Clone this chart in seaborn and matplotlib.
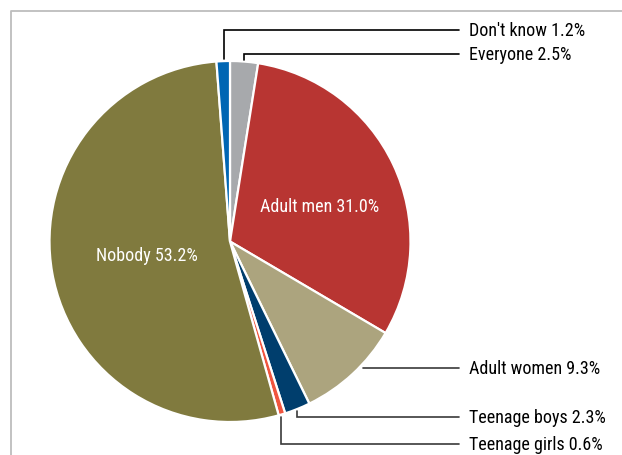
import numpy as np
import matplotlib
matplotlib.use("Agg")
import matplotlib.pyplot as plt
from matplotlib import font_manager
import seaborn as sns

# Survey answers, in clockwise order starting at twelve o'clock
categories = ["Everyone", "Adult men", "Adult women", "Teenage boys",
              "Teenage girls", "Nobody", "Don't know"]
shares = [2.5, 31.0, 9.3, 2.3, 0.6, 53.2, 1.2]
colors = ["#a7a9ac", "#b83532", "#aca47e", "#003e6d", "#f0553f", "#807a3e", "#0066b3"]

sns.set_theme(style="white")
names = {f.name for f in font_manager.fontManager.ttflist}
narrow = [n for n in ("Liberation Sans Narrow", "Roboto Condensed", "Arial Narrow") if n in names]
plt.rcParams["font.family"] = narrow + ["Liberation Sans", "DejaVu Sans"]
fs = 13 if narrow else 11.3

W, H = 622, 456
fig = plt.figure(figsize=(W / 100, H / 100), dpi=100)
ax = fig.add_axes([0, 0, 1, 1])

cx, cy, r = 230, H - 242.5, 180.5
wedges, _ = ax.pie(shares, colors=colors, startangle=90, counterclock=False,
                   center=(cx, cy), radius=r, frame=True,
                   wedgeprops=dict(edgecolor="white", linewidth=1.6))
ax.set_xlim(0, W)
ax.set_ylim(0, H)
ax.set_aspect("equal")
ax.axis("off")

# panel border (top and left edges visible)
ax.plot([11, 11, W], [0, H - 12, H - 12], color="#bdbdbd", lw=1.3, clip_on=False)

def label(v, name):
    return f"{name} {v:.1f}%"

def mid_angle(i):
    start = 90 - sum(shares[:i]) * 3.6
    return np.deg2rad(start - shares[i] * 1.8)

text_x = 469
line_end = 459

# labels with leader lines: (index, label y in pixels)
outside = {0: 55, 6: 31, 3: 418, 4: 445}
for i, ly in outside.items():
    a = mid_angle(i)
    px = cx + r * np.cos(a)
    py = cy + r * np.sin(a)
    yl = H - ly
    col = "black" if i in (0, 6) else "#3a3a3a"
    off = 2 if yl > py else -2
    ax.plot([px, px, line_end], [py + off, yl, yl], color=col, lw=1.2,
            solid_joinstyle="miter")
    ax.text(text_x, yl, label(shares[i], categories[i]), ha="left", va="center",
            fontsize=fs, color="black")

# Adult women: straight horizontal leader
i = 2
yl = H - 369
dx = np.sqrt(r ** 2 - (yl - cy) ** 2)
ax.plot([cx + dx + 4, line_end], [yl, yl], color="#3a3a3a", lw=1.2)
ax.text(text_x, yl, label(shares[i], categories[i]), ha="left", va="center",
        fontsize=fs, color="black")

# labels inside the two largest slices
ax.text(320, H - 207, label(shares[1], categories[1]), ha="center", va="center",
        fontsize=fs, color="white")
ax.text(147, H - 256, label(shares[5], categories[5]), ha="center", va="center",
        fontsize=fs, color="white")

fig.savefig("out.png", dpi=100)
